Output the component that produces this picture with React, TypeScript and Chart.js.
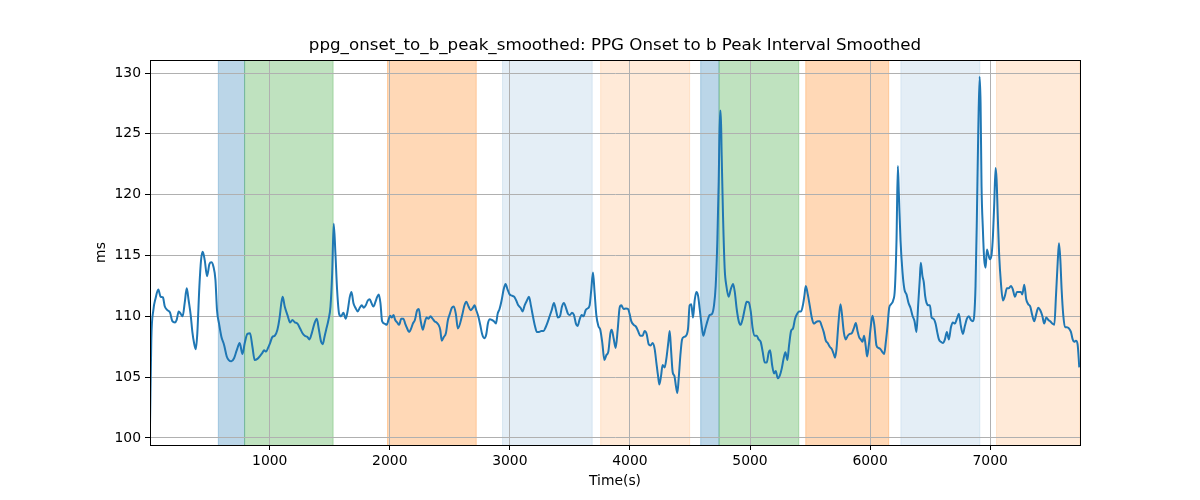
import React, { useEffect, useRef } from "react";
import { Chart, registerables } from "chart.js";

Chart.register(...registerables);

const titleText = "ppg_onset_to_b_peak_smoothed: PPG Onset to b Peak Interval Smoothed";
const xLabel = "Time(s)";
const yLabel = "ms";

const xTickValues: number[] = [1000, 2000, 3000, 4000, 5000, 6000, 7000];
const yTickValues: number[] = [100, 105, 110, 115, 120, 125, 130];

const times: number[] = [
  3, 14, 31, 50, 72, 92, 111, 125, 148, 170, 189, 211, 225, 242, 259, 275, 292, 309, 325, 342,
  356, 370, 384, 397, 414, 428, 442, 459, 478, 498, 514, 531, 548, 561, 578, 598, 620, 642, 659, 681,
  703, 725, 750, 773, 792, 814, 836, 856, 875, 897, 920, 939, 953, 970, 986, 1003, 1022, 1042, 1064, 1081,
  1097, 1108, 1125, 1148, 1170, 1189, 1209, 1231, 1253, 1273, 1292, 1314, 1331, 1350, 1372, 1392, 1408, 1428, 1442, 1456,
  1470, 1489, 1506, 1520, 1533, 1547, 1561, 1578, 1595, 1614, 1633, 1650, 1667, 1681, 1697, 1714, 1733, 1750, 1767, 1783,
  1800, 1817, 1833, 1847, 1864, 1881, 1895, 1908, 1922, 1936, 1956, 1975, 1989, 2003, 2017, 2031, 2045, 2061, 2078, 2095,
  2114, 2128, 2145, 2161, 2178, 2192, 2209, 2228, 2242, 2256, 2275, 2289, 2306, 2322, 2339, 2356, 2372, 2389, 2406, 2420,
  2433, 2450, 2467, 2484, 2500, 2517, 2533, 2550, 2567, 2603, 2620, 2637, 2656, 2673, 2692, 2706, 2720, 2737, 2753, 2770,
  2787, 2803, 2817, 2834, 2850, 2867, 2884, 2898, 2914, 2931, 2948, 2964, 2981, 2998, 3017, 3037, 3053, 3070, 3089, 3106,
  3123, 3142, 3159, 3175, 3192, 3209, 3225, 3242, 3262, 3281, 3298, 3314, 3331, 3348, 3367, 3384, 3400, 3417, 3434, 3450,
  3467, 3484, 3500, 3517, 3534, 3550, 3564, 3581, 3598, 3614, 3631, 3648, 3664, 3678, 3692, 3706, 3720, 3737, 3753, 3770,
  3787, 3803, 3820, 3837, 3848, 3864, 3881, 3898, 3914, 3928, 3947, 3967, 3984, 3997, 4011, 4031, 4050, 4067, 4086, 4106,
  4122, 4139, 4156, 4172, 4189, 4206, 4220, 4234, 4245, 4259, 4272, 4289, 4303, 4320, 4331, 4342, 4356, 4370, 4384, 4395,
  4406, 4420, 4434, 4450, 4467, 4484, 4497, 4511, 4525, 4539, 4553, 4567, 4581, 4595, 4611, 4628, 4645, 4664, 4684, 4700,
  4714, 4728, 4739, 4750, 4756, 4764, 4775, 4789, 4803, 4822, 4839, 4859, 4873, 4889, 4906, 4922, 4939, 4956, 4972, 4989,
  5006, 5022, 5039, 5056, 5072, 5089, 5106, 5122, 5139, 5156, 5167, 5184, 5200, 5214, 5231, 5247, 5264, 5281, 5295, 5311,
  5325, 5342, 5358, 5375, 5392, 5408, 5425, 5442, 5453, 5464, 5481, 5497, 5514, 5531, 5547, 5564, 5581, 5597, 5614, 5631,
  5647, 5664, 5681, 5697, 5708, 5720, 5736, 5753, 5764, 5781, 5797, 5814, 5831, 5847, 5864, 5881, 5895, 5908, 5922, 5936,
  5950, 5964, 5975, 5989, 6006, 6020, 6036, 6053, 6070, 6086, 6103, 6117, 6131, 6145, 6159, 6175, 6192, 6206, 6220, 6231,
  6239, 6253, 6270, 6286, 6303, 6320, 6336, 6353, 6370, 6386, 6400, 6414, 6422, 6436, 6447, 6458, 6470, 6486, 6498, 6512,
  6528, 6545, 6559, 6573, 6589, 6606, 6623, 6639, 6656, 6673, 6689, 6706, 6723, 6739, 6756, 6773, 6789, 6806, 6823, 6839,
  6856, 6867, 6878, 6889, 6900, 6912, 6920, 6928, 6939, 6950, 6962, 6973, 6984, 6998, 7012, 7023, 7034, 7045, 7053, 7064,
  7075, 7089, 7106, 7123, 7139, 7156, 7173, 7189, 7206, 7223, 7239, 7256, 7267, 7284, 7300, 7317, 7334, 7350, 7367, 7384,
  7400, 7417, 7434, 7450, 7467, 7484, 7500, 7517, 7534, 7548, 7562, 7573, 7584, 7595, 7609, 7623, 7639, 7656, 7673, 7687,
  7700, 7714, 7728, 7742,
];

const values: number[] = [
  101.0, 108.1, 110.5, 111.5, 112.2, 111.6, 111.55, 110.85, 110.5, 110.3, 109.6, 109.5, 109.7, 110.4, 110.2, 110.0, 111.1, 112.3, 111.3, 110.1,
  108.7, 107.8, 107.3, 108.6, 112.4, 114.6, 115.3, 114.6, 113.3, 114.3, 114.45, 114.1, 113.0, 110.5, 109.4, 108.3, 107.65, 106.7, 106.4, 106.3,
  106.55, 107.2, 107.8, 106.9, 107.8, 108.55, 108.6, 107.5, 106.4, 106.5, 106.75, 107.0, 107.2, 107.1, 107.4, 107.8, 108.3, 108.4, 108.9, 109.8,
  111.1, 111.6, 110.8, 110.1, 109.5, 109.7, 109.5, 109.4, 109.0, 108.6, 108.4, 108.3, 108.1, 108.6, 109.4, 109.8, 109.0, 107.9, 107.7, 108.3,
  108.9, 109.7, 110.8, 113.5, 117.6, 115.2, 112.2, 110.2, 110.0, 110.3, 109.8, 110.5, 111.6, 112.0, 111.1, 110.7, 110.4, 110.7, 110.9, 110.7,
  110.9, 111.3, 111.4, 111.1, 110.8, 111.2, 111.6, 111.8, 111.1, 109.6, 109.4, 109.3, 109.7, 110.05, 109.9, 110.1, 109.7, 109.5, 109.3, 109.8,
  109.8, 109.4, 109.0, 108.7, 109.0, 109.4, 109.7, 110.5, 110.6, 109.7, 108.9, 109.4, 109.9, 109.8, 110.0, 109.8, 109.6, 109.5, 109.3, 108.9,
  108.0, 108.3, 108.6, 109.7, 110.2, 110.7, 110.8, 110.2, 109.0, 110.1, 110.85, 111.2, 110.8, 110.5, 110.7, 110.9, 110.5, 110.0, 109.3, 108.5,
  108.2, 108.5, 109.4, 109.75, 109.7, 109.6, 109.4, 110.2, 110.6, 111.3, 112.2, 112.65, 112.2, 111.8, 111.7, 111.6, 111.3, 110.9, 110.7, 110.4,
  110.9, 111.3, 111.6, 110.9, 110.0, 109.2, 108.7, 108.7, 108.8, 108.8, 109.1, 109.5, 110.0, 110.5, 111.1, 110.5, 109.9, 110.0, 110.8, 111.1,
  110.7, 110.2, 110.1, 110.3, 110.1, 109.4, 109.2, 109.75, 110.1, 110.0, 110.5, 110.65, 110.9, 112.2, 113.6, 111.9, 110.1, 109.2, 108.9, 107.8,
  106.4, 106.8, 107.1, 108.6, 108.9, 108.2, 107.4, 108.9, 110.7, 110.9, 110.6, 110.65, 110.6, 110.2, 109.6, 109.3, 109.15, 108.8, 108.4, 108.4,
  108.8, 108.55, 107.7, 107.6, 107.8, 107.3, 106.2, 105.1, 104.4, 105.1, 106.0, 105.8, 106.5, 107.9, 108.8, 107.3, 105.4, 105.1, 104.2, 103.7,
  104.9, 106.8, 108.1, 108.3, 108.4, 109.0, 110.9, 111.0, 109.9, 111.3, 112.0, 111.7, 110.6, 109.4, 108.4, 109.0, 109.6, 110.1, 110.2, 110.9,
  112.5, 116.3, 121.0, 126.9, 126.9, 123.2, 118.3, 113.9, 112.5, 111.6, 112.2, 112.65, 112.0, 110.6, 109.6, 109.3, 109.8, 110.6, 111.2, 111.15,
  110.4, 109.0, 108.4, 108.4, 108.1, 107.9, 107.05, 106.2, 106.2, 107.05, 107.2, 106.0, 105.3, 105.5, 104.9, 105.1, 105.7, 106.6, 107.05, 106.4,
  107.6, 108.8, 109.0, 109.8, 110.2, 110.4, 110.4, 111.0, 111.7, 112.5, 111.8, 110.9, 109.9, 109.4, 109.5, 109.6, 109.6, 109.2, 108.7, 108.0,
  107.8, 107.5, 107.3, 106.9, 106.6, 107.3, 109.4, 111.0, 110.3, 108.7, 108.1, 108.4, 108.55, 108.6, 109.0, 109.45, 108.8, 108.3, 108.1, 107.9,
  108.4, 107.5, 106.7, 107.6, 109.2, 110.05, 109.2, 107.6, 107.4, 107.3, 107.05, 106.9, 107.9, 109.2, 110.7, 111.0, 111.3, 112.2, 116.3, 122.35,
  120.2, 116.3, 113.6, 112.2, 111.8, 111.1, 110.7, 110.05, 109.6, 108.7, 110.9, 113.1, 114.4, 113.3, 112.8, 111.7, 111.1, 110.9, 110.9, 109.9,
  109.8, 109.4, 108.7, 108.1, 107.9, 107.8, 108.1, 108.7, 108.1, 109.1, 109.5, 109.4, 109.8, 110.2, 109.2, 108.55, 109.2, 109.8, 110.0, 109.7,
  109.6, 110.05, 112.5, 118.0, 124.8, 129.7, 127.5, 120.7, 117.2, 114.7, 114.0, 115.5, 115.1, 114.7, 115.1, 116.6, 119.3, 122.2, 121.3, 118.0,
  115.0, 112.8, 111.3, 111.7, 112.3, 112.3, 112.5, 112.2, 111.6, 112.0, 112.0, 112.0, 111.8, 112.6, 111.4, 111.0, 110.8, 110.1, 109.6, 110.2,
  110.7, 110.5, 110.05, 109.4, 109.9, 109.7, 109.6, 109.4, 109.3, 111.7, 114.4, 116.0, 114.7, 112.2, 110.05, 109.1, 109.1, 109.0, 108.7, 108.1,
  107.9, 108.0, 107.7, 105.8,
];

const spanStarts: number[] = [572, 791, 1981, 2939, 3756, 4589, 4742, 5464, 6256, 7053];
const spanEnds: number[] = [791, 1528, 2720, 3686, 4497, 4742, 5406, 6155, 6914, 7748];
const spanColors: string[] = [
  "rgba(31,119,180,0.3)",
  "rgba(44,160,44,0.3)",
  "rgba(255,127,14,0.3)",
  "rgba(31,119,180,0.12)",
  "rgba(255,127,14,0.16)",
  "rgba(31,119,180,0.3)",
  "rgba(44,160,44,0.3)",
  "rgba(255,127,14,0.3)",
  "rgba(31,119,180,0.12)",
  "rgba(255,127,14,0.16)",
];

const xMin = 3;
const xMax = 7748;
const yMin = 99.42;
const yMax = 131.07;

const FONT = "DejaVu Sans";

const spanPlugin = {
  id: "spans",
  beforeDraw(chart: any) {
    const { ctx, chartArea, scales } = chart;
    const xs = scales.x;
    ctx.save();
    ctx.beginPath();
    ctx.rect(chartArea.left, chartArea.top, chartArea.right - chartArea.left, chartArea.bottom - chartArea.top);
    ctx.clip();
    for (let i = 0; i < spanStarts.length; i++) {
      const x1 = xs.getPixelForValue(spanStarts[i]);
      const x2 = xs.getPixelForValue(spanEnds[i]);
      ctx.fillStyle = spanColors[i];
      ctx.fillRect(x1, chartArea.top, x2 - x1, chartArea.bottom - chartArea.top);
      ctx.strokeStyle = spanColors[i];
      ctx.lineWidth = 1;
      ctx.beginPath();
      ctx.moveTo(x1, chartArea.top);
      ctx.lineTo(x1, chartArea.bottom);
      ctx.moveTo(x2, chartArea.top);
      ctx.lineTo(x2, chartArea.bottom);
      ctx.stroke();
    }
    ctx.restore();
  },
};

const framePlugin = {
  id: "frame",
  afterDraw(chart: any) {
    const { ctx, chartArea } = chart;
    ctx.save();
    ctx.strokeStyle = "#000";
    ctx.lineWidth = 1;
    ctx.strokeRect(
      Math.round(chartArea.left) + 0.5,
      Math.round(chartArea.top) + 0.5,
      Math.round(chartArea.right - chartArea.left),
      Math.round(chartArea.bottom - chartArea.top)
    );
    ctx.fillStyle = "#000";
    ctx.textAlign = "center";
    ctx.textBaseline = "middle";
    const cx = (chartArea.left + chartArea.right) / 2;
    ctx.font = `16.7px "${FONT}"`;
    ctx.fillText(titleText, cx, 46);
    ctx.font = `13.9px "${FONT}"`;
    ctx.fillText(xLabel, cx, 481);
    ctx.translate(101, (chartArea.top + chartArea.bottom) / 2);
    ctx.rotate(-Math.PI / 2);
    ctx.fillText(yLabel, 0, 0);
    ctx.restore();
  },
};

export default function App() {
  const canvasRef = useRef<HTMLCanvasElement | null>(null);

  useEffect(() => {
    if (!canvasRef.current) return;
    const points = times.map((t, i) => ({ x: t, y: values[i] }));
    const chart = new Chart(canvasRef.current, {
      type: "line",
      data: {
        datasets: [
          {
            data: points,
            borderColor: "#1f77b4",
            borderWidth: 2,
            pointRadius: 0,
            cubicInterpolationMode: "monotone",
            fill: false,
          },
        ],
      },
      options: {
        animation: false,
        responsive: false,
        devicePixelRatio: 1,
        layout: { padding: { left: 0, top: 60, right: 120, bottom: 0 } },
        plugins: {
          legend: { display: false },
          title: { display: false },
          tooltip: { enabled: false },
        },
        scales: {
          x: {
            type: "linear",
            min: xMin,
            max: xMax,
            afterFit(scale: any) {
              scale.height = 55;
            },
            afterBuildTicks(scale: any) {
              scale.ticks = xTickValues.map((v) => ({ value: v }));
            },
            ticks: {
              autoSkip: false,
              color: "#000",
              font: { family: FONT, size: 13.9 },
              padding: 3,
              maxRotation: 0,
              callback: (v: any) => String(v),
            },
            grid: {
              color: "#b0b0b0",
              lineWidth: 1,
              tickColor: "#000",
              tickLength: 5,
              tickWidth: 1,
            },
            border: { display: true, color: "#000", width: 1 },
          },
          y: {
            type: "linear",
            min: yMin,
            max: yMax,
            afterFit(scale: any) {
              scale.width = 150;
            },
            afterBuildTicks(scale: any) {
              scale.ticks = yTickValues.map((v) => ({ value: v }));
            },
            ticks: {
              autoSkip: false,
              color: "#000",
              font: { family: FONT, size: 13.9 },
              padding: 4,
              callback: (v: any) => String(v),
            },
            grid: {
              color: "#b0b0b0",
              lineWidth: 1,
              tickColor: "#000",
              tickLength: 5,
              tickWidth: 1,
            },
            border: { display: true, color: "#000", width: 1 },
          },
        },
      },
      plugins: [spanPlugin, framePlugin],
    });
    return () => chart.destroy();
  }, []);

  return (
    <div style={{ position: "absolute", left: 0, top: 0, width: 1200, height: 500, background: "#fff" }}>
      <canvas ref={canvasRef} width={1200} height={500} style={{ width: 1200, height: 500, display: "block" }} />
    </div>
  );
}
